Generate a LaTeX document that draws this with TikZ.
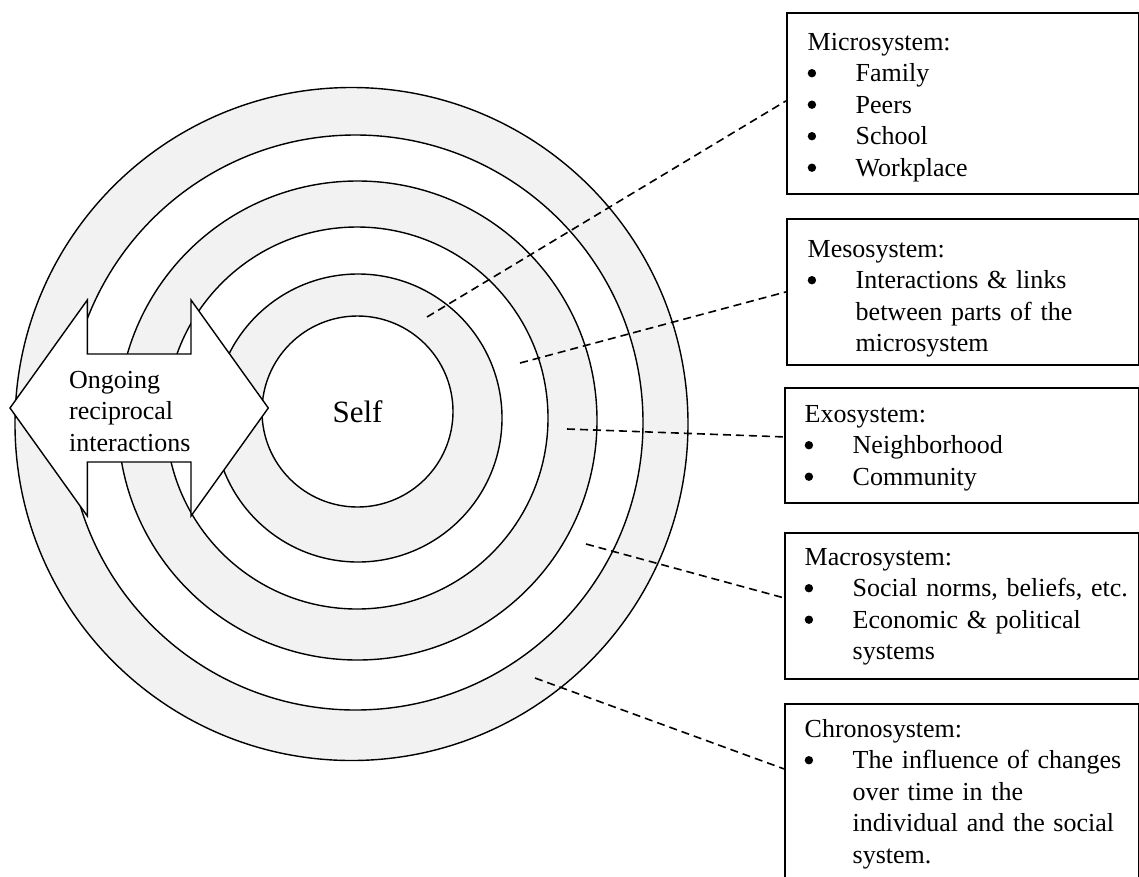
\documentclass[tikz,border=0pt]{standalone}
\usepackage{fontspec}
\setmainfont{Liberation Serif}
\definecolor{ringgray}{RGB}{242,242,242}
\newcommand\bul{\makebox[48pt][l]{\tikz[x=1pt,y=1pt,baseline=0pt]\fill (4.6,8.3) circle[radius=4.2];}}
\newcommand\ind{\hspace*{48pt}}
\begin{document}
\begin{tikzpicture}[x=1pt,y=-1pt,
  ring/.style={line width=1.4pt},
  sysbox/.style={draw, line width=1.8pt, rectangle, inner sep=0pt, anchor=north west},
  boxtext/.style={anchor=base west, inner sep=0pt, text width=330pt, align=left, font=\fontsize{26}{31.5}\selectfont},
  conn/.style={dash pattern=on 8pt off 5pt, line width=1.6pt}
]
\useasboundingbox (0,0) rectangle (1139,876);
\clip (0,0) rectangle (1139,876);

% rings
\fill[ringgray] (351.5,424) circle[radius=336.5];
\fill[white] (355.5,422.5) circle[radius=287.5];
\fill[ringgray] (357.5,420.5) circle[radius=239.5];
\fill[white] (357,418) circle[radius=191];
\fill[ringgray] (358,418) circle[radius=144];
\draw[ring] (351.5,424) circle[radius=336.5];
\draw[ring] (355.5,422.5) circle[radius=287.5];
\draw[ring] (357.5,420.5) circle[radius=239.5];
\draw[ring] (357,418) circle[radius=191];
\draw[ring] (358,418) circle[radius=144];
\node[circle, draw, ring, fill=white, minimum size=191pt, inner sep=0pt,
      font=\fontsize{31}{36}\selectfont] (self) at (357.5,411.5) {Self};

% double arrow
\draw[ring, fill=white] (10,408) -- (87.3,300) -- (87.3,354) -- (191,354) -- (191,300)
  -- (268.3,408) -- (191,516) -- (191,462) -- (87.3,462) -- (87.3,516) -- cycle;
\node[anchor=base west, inner sep=0pt, text width=140pt, align=left,
      font=\fontsize{26}{31.5}\selectfont] (arrowtext) at (69,388)
  {Ongoing\\reciprocal\\interactions};

% boxes
\node[sysbox, minimum width=352pt, minimum height=181pt] (micro) at (786,12) {};
\node[sysbox, minimum width=352pt, minimum height=146pt] (meso) at (786,218) {};
\node[sysbox, minimum width=354pt, minimum height=115pt] (exo) at (784,387) {};
\node[sysbox, minimum width=354pt, minimum height=146pt] (macro) at (784,532) {};
\node[sysbox, minimum width=354pt, minimum height=200pt] (chrono) at (784,703) {};

\node[boxtext] (microtext) at (807.5,50)
  {Microsystem:\\\bul Family\\\bul Peers\\\bul School\\\bul Workplace};
\node[boxtext] (mesotext) at (807.5,257)
  {Mesosystem:\\\bul Interactions \& links\\\ind between parts of the\\\ind microsystem};
\node[boxtext] (exotext) at (804.5,422)
  {Exosystem:\\\bul Neighborhood\\\bul Community};
\node[boxtext] (macrotext) at (804.5,565)
  {Macrosystem:\\\bul Social norms, beliefs, etc.\\\bul Economic \& political\\\ind systems};
\node[boxtext] (chronotext) at (804.5,737)
  {Chronosystem:\\\bul The influence of changes\\\ind over time in the\\\ind individual and the social\\\ind system.};

% connectors
\coordinate (c1) at (427,317);
\coordinate (c2) at (520,363);
\coordinate (c3) at (567,429);
\coordinate (c4) at (586,544);
\coordinate (c5) at (535,678);
\draw[conn] (c1) -- ([yshift=2.5pt]micro.west);
\draw[conn] (c2) -- (meso.west);
\draw[conn] (c3) -- ([yshift=8.5pt]exo.west);
\draw[conn] (c4) -- ([yshift=8pt]macro.west);
\draw[conn] (c5) -- ([yshift=35pt]chrono.west);
\end{tikzpicture}
\end{document}
